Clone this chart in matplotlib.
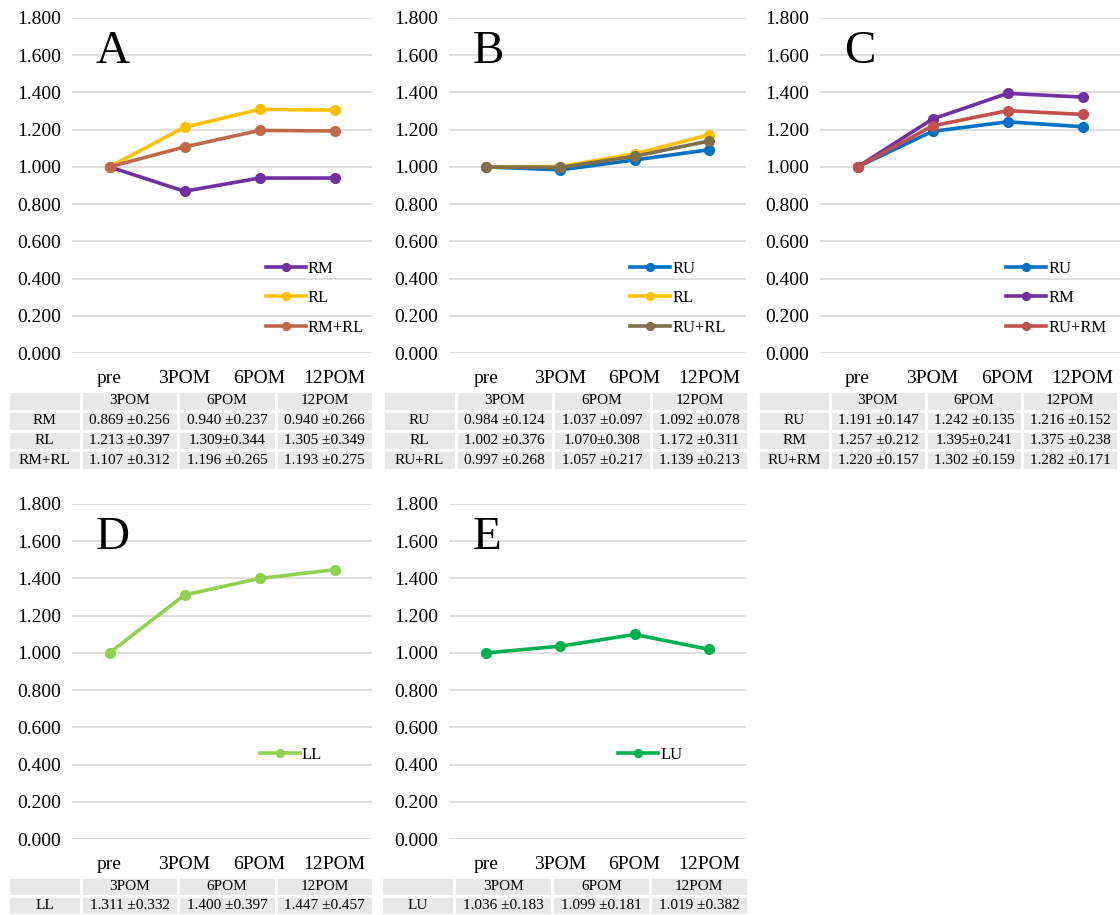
import matplotlib.pyplot as plt

plt.rcParams['font.family'] = ['Liberation Serif', 'DejaVu Serif']

W, H = 1120, 915

categories = ["pre", "3POM", "6POM", "12POM"]
table_cols = ["3POM", "6POM", "12POM"]

# panel A
a_names = ["RM", "RL", "RM+RL"]
a_values = [[1.0, 0.869, 0.940, 0.940],
            [1.0, 1.213, 1.309, 1.305],
            [1.0, 1.107, 1.196, 1.193]]
a_table = [["0.869 ±0.256", "0.940 ±0.237", "0.940 ±0.266"],
           ["1.213 ±0.397", "1.309±0.344", "1.305 ±0.349"],
           ["1.107 ±0.312", "1.196 ±0.265", "1.193 ±0.275"]]
a_colors = ["#7030A0", "#FFC000", "#C0694A"]

# panel B
b_names = ["RU", "RL", "RU+RL"]
b_values = [[1.0, 0.984, 1.037, 1.092],
            [1.0, 1.002, 1.070, 1.172],
            [1.0, 0.997, 1.057, 1.139]]
b_table = [["0.984 ±0.124", "1.037 ±0.097", "1.092 ±0.078"],
           ["1.002 ±0.376", "1.070±0.308", "1.172 ±0.311"],
           ["0.997 ±0.268", "1.057 ±0.217", "1.139 ±0.213"]]
b_colors = ["#0070C0", "#FFC000", "#7F6F4A"]

# panel C
c_names = ["RU", "RM", "RU+RM"]
c_values = [[1.0, 1.191, 1.242, 1.216],
            [1.0, 1.257, 1.395, 1.375],
            [1.0, 1.220, 1.302, 1.282]]
c_table = [["1.191 ±0.147", "1.242 ±0.135", "1.216 ±0.152"],
           ["1.257 ±0.212", "1.395±0.241", "1.375 ±0.238"],
           ["1.220 ±0.157", "1.302 ±0.159", "1.282 ±0.171"]]
c_colors = ["#0070C0", "#7030A0", "#C0504D"]

# panel D
d_names = ["LL"]
d_values = [[1.0, 1.311, 1.400, 1.447]]
d_table = [["1.311 ±0.332", "1.400 ±0.397", "1.447 ±0.457"]]
d_colors = ["#92D050"]

# panel E
e_names = ["LU"]
e_values = [[1.0, 1.036, 1.099, 1.019]]
e_table = [["1.036 ±0.183", "1.099 ±0.181", "1.019 ±0.382"]]
e_colors = ["#00B050"]


def px_axes(fig, x0, y0, x1, y1):
    return fig.add_axes([x0 / W, 1 - y1 / H, (x1 - x0) / W, (y1 - y0) / H])


def draw_panel(fig, box, names, values, colors, letter, leg_xy):
    ax = px_axes(fig, *box)
    for name, vals, col in zip(names, values, colors):
        ax.plot(categories, vals, color=col, lw=2.6, marker='o', ms=7, label=name)
    ax.set_ylim(0, 1.8)
    ax.set_xlim(-0.5, 3.5)
    ax.set_yticks([i * 0.2 for i in range(10)])
    ax.set_yticklabels([f"{i * 0.2:.3f}" for i in range(10)], fontsize=14)
    ax.tick_params(axis='x', labelsize=14, length=0, pad=12)
    ax.tick_params(axis='y', length=0, pad=8)
    ax.grid(True, axis='y', color='#D9D9D9', lw=1.2)
    ax.set_axisbelow(True)
    for s in ax.spines.values():
        s.set_visible(False)
    ax.text(0.08, 0.9, letter, transform=ax.transAxes, fontsize=34, va='center', ha='left')
    ax.legend(loc='upper left', bbox_to_anchor=leg_xy, frameon=False, fontsize=12,
              handlelength=2.4, handletextpad=0.15, labelspacing=0.8,
              borderpad=0, borderaxespad=0, markerscale=0.8)
    return ax


def draw_table(fig, box, names, rows):
    ax = px_axes(fig, *box)
    ax.axis('off')
    cells = [[""] + table_cols] + [[n] + r for n, r in zip(names, rows)]
    tb = ax.table(cellText=cells, bbox=[0, 0, 1, 1], cellLoc='center',
                  colWidths=[0.2, 0.267, 0.267, 0.266])
    tb.auto_set_font_size(False)
    tb.set_fontsize(11)
    for cell in tb.get_celld().values():
        cell.set_facecolor('#E8E8E8')
        cell.set_edgecolor('white')
        cell.set_linewidth(2)


fig = plt.figure(figsize=(W / 100, H / 100), dpi=100)

draw_panel(fig, (72, 18, 372, 353), a_names, a_values, a_colors, "A", (0.645, 0.275))
draw_panel(fig, (449, 18, 746, 353), b_names, b_values, b_colors, "B", (0.61, 0.275))
draw_panel(fig, (820, 18, 1120, 353), c_names, c_values, c_colors, "C", (0.62, 0.275))
draw_panel(fig, (72, 504, 372, 839), d_names, d_values, d_colors, "D", (0.625, 0.275))
draw_panel(fig, (449, 504, 746, 839), e_names, e_values, e_colors, "E", (0.57, 0.275))

draw_table(fig, (8, 391, 373, 470), a_names, a_table)
draw_table(fig, (383, 391, 748, 470), b_names, b_table)
draw_table(fig, (758, 391, 1118, 470), c_names, c_table)
draw_table(fig, (8, 877, 373, 915), d_names, d_table)
draw_table(fig, (381, 877, 748, 915), e_names, e_table)

fig.savefig("out.png", dpi=100)
